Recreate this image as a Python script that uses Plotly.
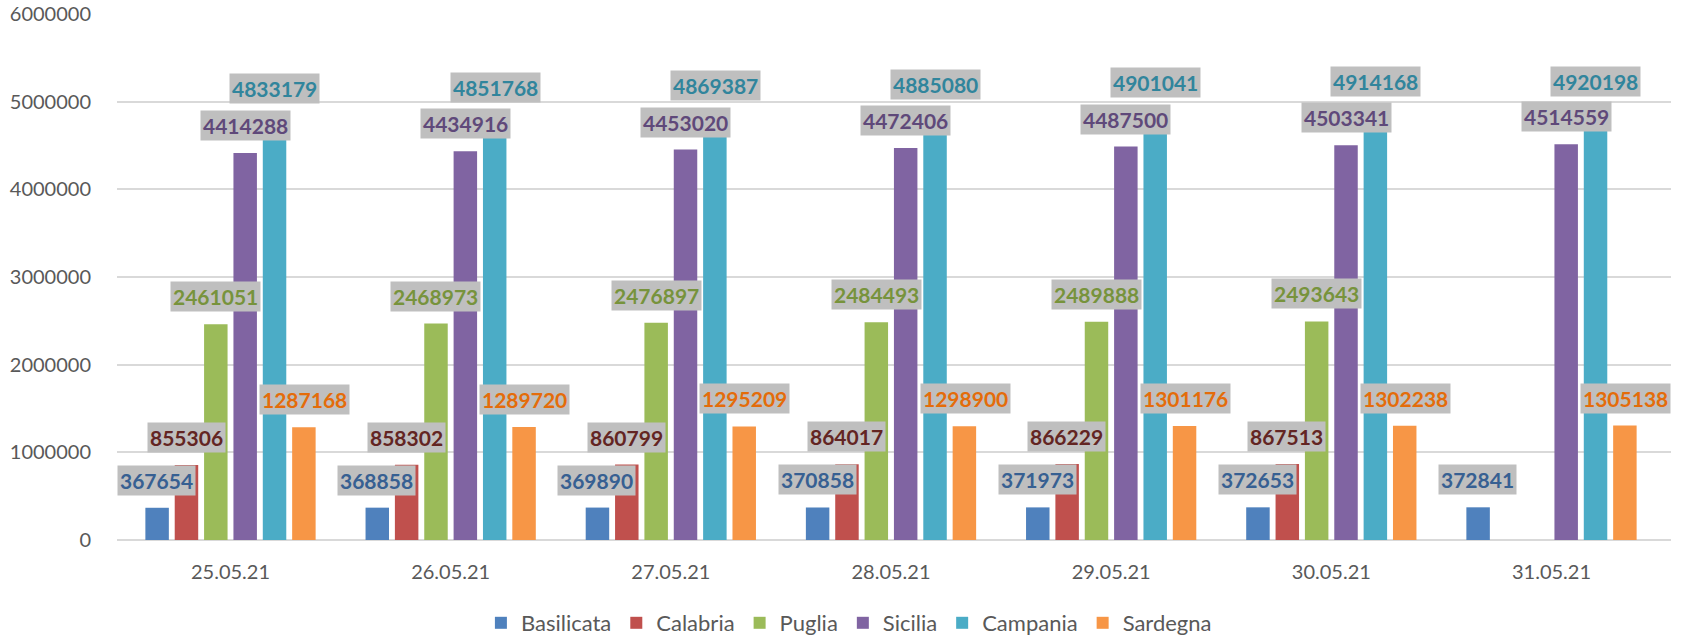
import plotly.graph_objects as go

dates = ["25.05.21", "26.05.21", "27.05.21", "28.05.21", "29.05.21", "30.05.21", "31.05.21"]
basilicata = [367654, 368858, 369890, 370858, 371973, 372653, 372841]
calabria = [855306, 858302, 860799, 864017, 866229, 867513, None]
puglia = [2461051, 2468973, 2476897, 2484493, 2489888, 2493643, None]
sicilia = [4414288, 4434916, 4453020, 4472406, 4487500, 4503341, 4514559]
campania = [4833179, 4851768, 4869387, 4885080, 4901041, 4914168, 4920198]
sardegna = [1287168, 1289720, 1295209, 1298900, 1301176, 1302238, 1305138]

series = [
    ("Basilicata", basilicata, "#4F81BD", "#376092"),
    ("Calabria", calabria, "#C0504D", "#632523"),
    ("Puglia", puglia, "#9BBB59", "#77933C"),
    ("Sicilia", sicilia, "#8064A2", "#5F497A"),
    ("Campania", campania, "#4BACC6", "#31859C"),
    ("Sardegna", sardegna, "#F79646", "#E46C0A"),
]

W, H = 1681, 642
ML, MR, MT, MB = 117, 10, 14, 102
BARGAP, GROUPGAP = 0.2, 0.2
FONT = "Lato, 'Open Sans', sans-serif"

fig = go.Figure()
for name, vals, col, _ in series:
    fig.add_trace(go.Bar(
        name=name, x=dates, y=vals,
        marker=dict(color=col, line=dict(width=0)),
        hoverinfo="x+y+name",
    ))

plot_w = W - ML - MR
cat_w = plot_w / len(dates)
slot = cat_w * (1 - BARGAP) / len(series)
annotations = []
for i, (name, vals, col, tcol) in enumerate(series):
    shift = (i - (len(series) - 1) / 2) * slot
    for d, v in zip(dates, vals):
        if v is None:
            continue
        annotations.append(dict(
            x=d, y=v, xref="x", yref="y", text=f"<b>{v}</b>",
            showarrow=False, xshift=shift, yshift=12, yanchor="bottom",
            bgcolor="#BFBFBF", borderpad=2,
            font=dict(family=FONT, size=21, color=tcol),
        ))

fig.update_layout(
    width=W, height=H,
    margin=dict(l=ML, r=MR, t=MT, b=MB, autoexpand=False),
    paper_bgcolor="white", plot_bgcolor="white",
    barmode="group", bargap=BARGAP, bargroupgap=GROUPGAP,
    font=dict(family=FONT, color="#595959"),
    annotations=annotations,
    showlegend=True,
    legend=dict(
        orientation="h", xref="container", yref="container",
        x=0.505, xanchor="center", y=1 - 623 / H, yanchor="middle",
        font=dict(size=22, color="#595959"),
        itemwidth=30,
    ),
    xaxis=dict(
        tickfont=dict(size=20, color="#595959"),
        showgrid=False, showline=False, ticks="",
        ticklabelstandoff=18, automargin=False,
    ),
    yaxis=dict(
        range=[0, 6000000], dtick=1000000, tickformat="d",
        tickfont=dict(size=20, color="#595959"),
        showgrid=True, gridcolor="#D9D9D9", gridwidth=1.5,
        zeroline=True, zerolinecolor="#D9D9D9", zerolinewidth=1.5,
        showline=False, ticks="",
        ticklabelstandoff=25, automargin=False,
    ),
)

fig.write_html(
    "out.html",
    config={"displayModeBar": False},
    post_script="document.body.style.margin='0';document.body.style.overflow='hidden';",
)
